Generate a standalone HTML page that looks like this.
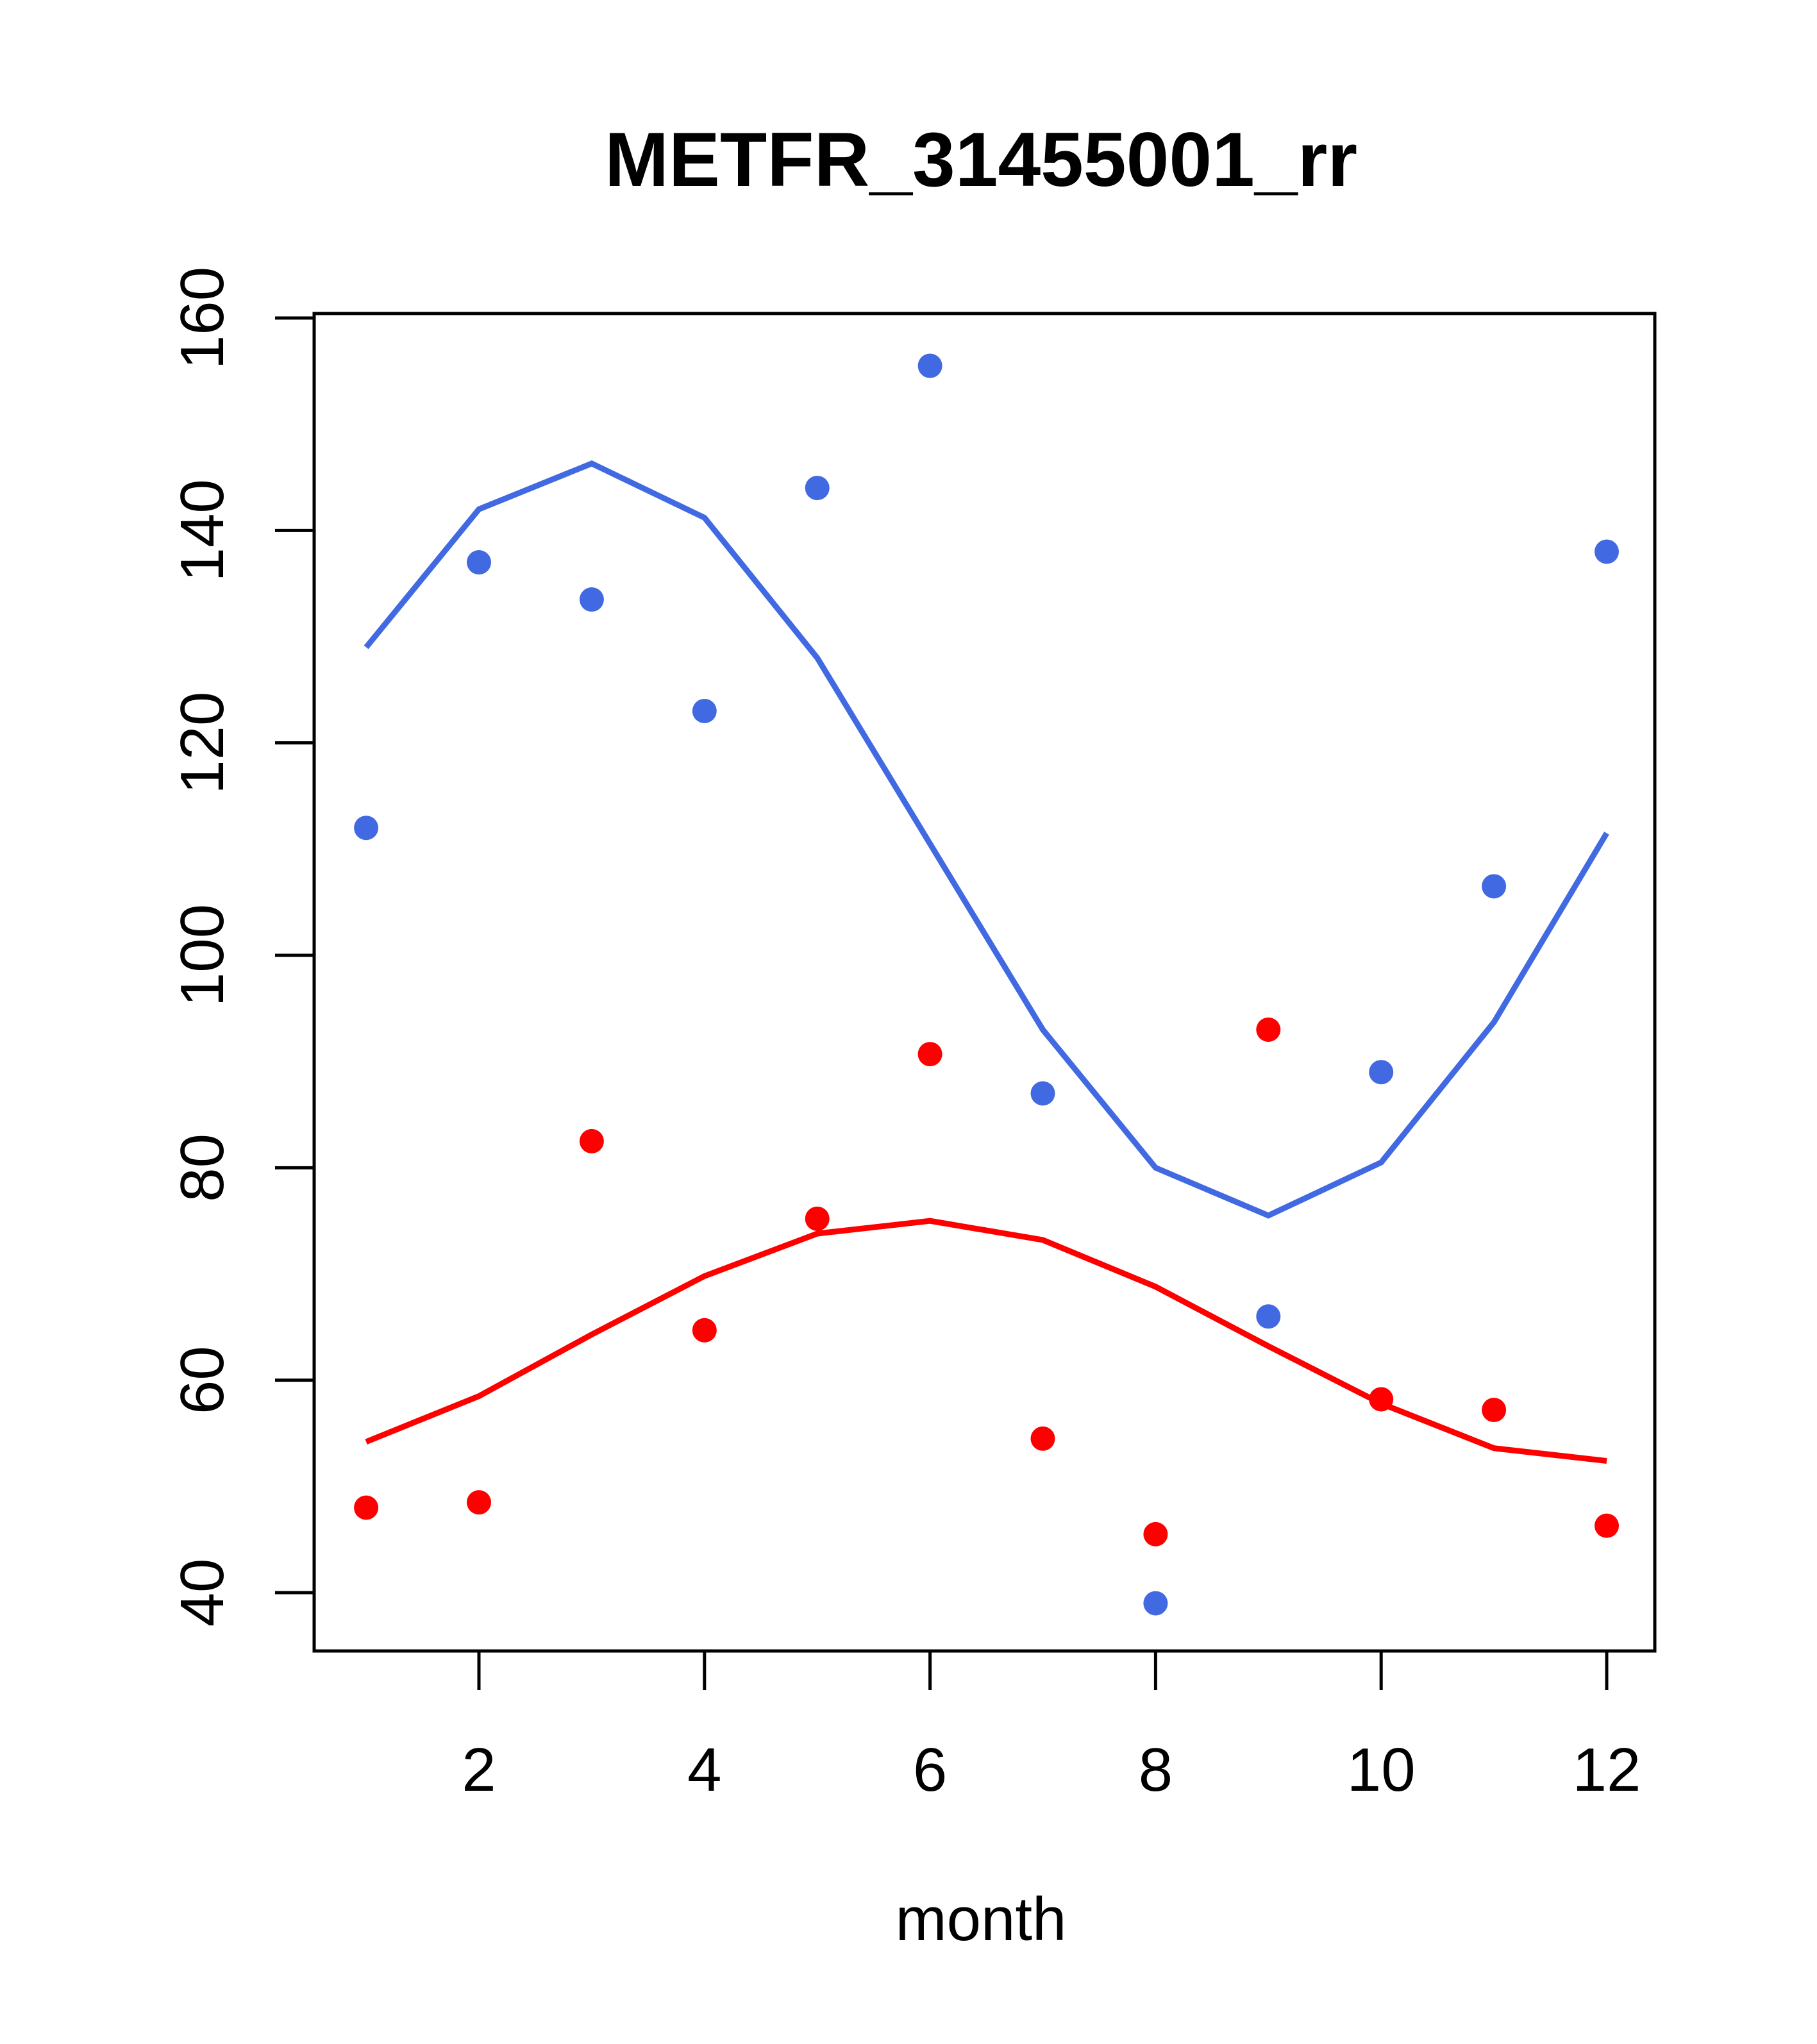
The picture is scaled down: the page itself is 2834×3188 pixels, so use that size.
<!DOCTYPE html>
<html><head><meta charset="utf-8"><style>html,body{margin:0;padding:0;background:#fff}svg{display:block}</style></head>
<body>
<svg id="chart" width="2834" height="3188" xmlns="http://www.w3.org/2000/svg" font-family="Liberation Sans, sans-serif"></svg>
<script>
const months=[1,2,3,4,5,6,7,8,9,10,11,12];
const bluePoints=[112,137,133.5,123,144,155.5,87,39,66,89,106.5,138];
const blueLine=[129,142,146.3,141.2,128,110.5,93,80,75.5,80.5,93.7,111.5];
const redPoints=[48,48.5,82.5,64.7,75.2,90.7,54.5,45.5,93,58.2,57.2,46.3];
const redLine=[54.2,58.5,64.3,69.8,73.8,75,73.2,68.8,63.2,57.8,53.6,52.4];
const xTicks=[2,4,6,8,10,12];
const yTicks=[40,60,80,100,120,140,160];

const svg=document.getElementById('chart');
const NS='http://www.w3.org/2000/svg';
const X=v=>747+(v-2)*(2506-747)/10;
const Y=v=>2484-(v-40)*(2484-496)/120;
function mk(t,a){const e=document.createElementNS(NS,t);for(const k in a)e.setAttribute(k,a[k]);svg.appendChild(e);return e;}

let title=mk('text',{x:1530,y:290,'text-anchor':'middle','font-size':120,'font-weight':'bold'});
title.textContent='METFR_31455001_rr';



let box=mk('rect',{x:490,y:489,width:2091,height:2086,fill:'none',stroke:'#000','stroke-width':5});



mk('line',{x1:X(2),x2:X(12),y1:2575,y2:2575,stroke:'#000','stroke-width':5});
xTicks.forEach(t=>{
  let l=mk('line',{x1:X(t),x2:X(t),y1:2575,y2:2636,stroke:'#000','stroke-width':5});
  
  
  let tx=mk('text',{x:X(t),y:2793,'text-anchor':'middle','font-size':96});
  tx.textContent=t;
  
  
});
mk('line',{x1:490,x2:490,y1:Y(40),y2:Y(160),stroke:'#000','stroke-width':5});
yTicks.forEach(t=>{
  let l=mk('line',{x1:429,x2:490,y1:Y(t),y2:Y(t),stroke:'#000','stroke-width':5});
  
  
  let tx=mk('text',{x:0,y:0,'text-anchor':'middle','font-size':96,transform:`translate(348,${Y(t)}) rotate(-90)`});
  tx.textContent=t;
  
  
});
let xl=mk('text',{x:1530,y:3026,'text-anchor':'middle','font-size':96});
xl.textContent='month';



function line(vals,color,name){
  let p=mk('polyline',{points:months.map((m,i)=>X(m)+','+Y(vals[i])).join(' '),fill:'none',stroke:color,'stroke-width':9});
  
  
}
function pts(vals,color,name){
  months.forEach((m,i)=>{
    let c=mk('circle',{cx:X(m),cy:Y(vals[i]),r:19,fill:color});
    
    
  });
}
line(blueLine,'#4169E1','blue-fit-line');
line(redLine,'#FF0000','red-fit-line');
pts(bluePoints,'#4169E1','blue-point');
pts(redPoints,'#FF0000','red-point');
</script>
</body></html>
